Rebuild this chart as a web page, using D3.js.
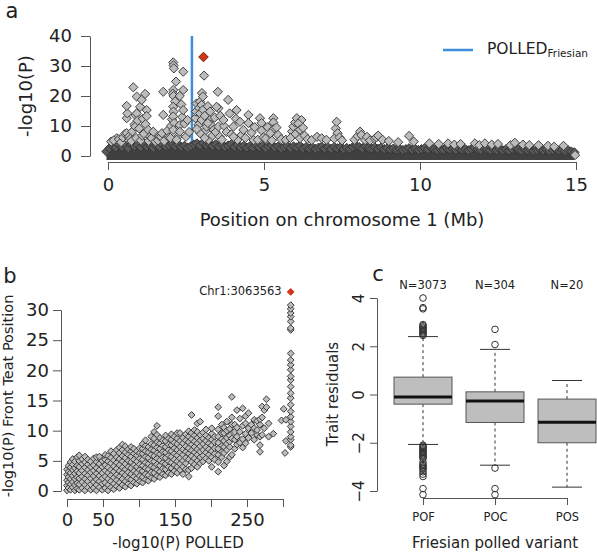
<!DOCTYPE html>
<html>
<head>
<meta charset="utf-8">
<script src="https://cdn.jsdelivr.net/npm/d3@7"></script>
<style>
  body { margin: 0; background: #fff; }
  svg { display: block; }
</style>
</head>
<body>
<svg id="chart" width="597" height="554"></svg>
<script>
// ── Data ─────────────────────────────────────────────────────────────────

// panel a: SNPs standing out above the dense baseline [position Mb, -log10 P]
const gwasPeaks = [
  [0.1, 4.8], [0.28, 5.9], [0.18, 5.2], [0.35, 5.6], [0.42, 4.6], [0.48, 6.2], [0.55, 7.4], [0.6, 7.6],
  [0.6, 12.6], [0.62, 14.2], [0.6, 16.7], [0.68, 6.6], [0.72, 5.8], [0.75, 5.0], [0.78, 8.2], [0.81, 22.9],
  [0.85, 10.5], [0.87, 9.8], [0.88, 13.6], [0.9, 6.0], [0.92, 19.8], [0.92, 14.2], [0.95, 11.8], [1.0, 9.2],
  [1.03, 16.4], [1.05, 5.2], [1.08, 18.7], [1.1, 6.8], [1.12, 12.4], [1.15, 7.4], [1.19, 20.7], [1.24, 15.3],
  [1.24, 13.3], [1.2, 10.6], [1.29, 8.7], [1.3, 5.0], [1.35, 6.4], [1.4, 6.0], [1.45, 8.1], [1.52, 4.8],
  [1.6, 5.2], [1.65, 6.6], [1.7, 6.4], [1.73, 7.6], [1.77, 13.7], [1.77, 21.4], [1.8, 5.0], [1.9, 8.4],
  [1.95, 6.2], [2.02, 10.0], [2.05, 12.2], [2.09, 31.2], [2.1, 30.2], [2.11, 29.2], [2.41, 28.1], [2.09, 22.0],
  [2.08, 20.8], [2.1, 20.0], [2.15, 18.2], [2.18, 24.8], [2.2, 9.4], [2.25, 6.6], [2.41, 22.0], [2.3, 20.0],
  [2.35, 17.2], [2.38, 13.0], [2.09, 16.4], [2.1, 14.8], [2.09, 13.2], [2.12, 11.0], [2.09, 8.7], [2.41, 15.3],
  [2.3, 10.3], [2.3, 8.1], [2.45, 10.8], [2.5, 6.4], [2.55, 12.0], [2.6, 8.0], [2.0, 6.0], [2.2, 5.4],
  [2.8, 12.6], [2.82, 14.8], [2.84, 17.5], [2.9, 10.4], [2.92, 16.0], [2.95, 18.1], [3.01, 21.0], [3.04, 19.8],
  [3.08, 26.8], [3.0, 17.0], [2.95, 14.2], [3.0, 12.0], [3.05, 15.4], [3.1, 13.4], [3.12, 8.4], [3.2, 16.6],
  [3.22, 5.4], [3.27, 14.8], [3.27, 12.0], [3.16, 9.8], [3.3, 10.4], [3.35, 6.8], [3.38, 8.7], [2.95, 7.6],
  [3.1, 6.0], [2.85, 9.0], [3.2, 11.0], [3.42, 12.8], [3.45, 8.0], [3.52, 21.4], [3.54, 15.9], [3.48, 16.4],
  [3.54, 9.8], [3.58, 6.4], [3.6, 13.4], [3.65, 5.4], [3.72, 10.0], [3.85, 18.7], [3.7, 12.0], [3.8, 8.0],
  [3.9, 14.2], [3.95, 7.2], [4.1, 12.4], [4.15, 5.4], [4.12, 15.3], [4.5, 13.7], [4.23, 11.4], [4.28, 7.0],
  [4.02, 9.8], [4.34, 8.7], [4.4, 6.0], [4.5, 11.0], [4.02, 6.4], [4.6, 7.8], [4.67, 5.3], [4.7, 9.6],
  [4.8, 5.4], [4.87, 12.6], [4.92, 11.0], [4.92, 8.5], [4.98, 6.2], [5.05, 5.8], [5.12, 9.6], [5.25, 5.2],
  [5.3, 12.6], [5.3, 11.2], [5.3, 8.9], [5.2, 7.6], [5.4, 9.5], [5.45, 7.0], [5.55, 5.6], [5.7, 5.4],
  [5.9, 8.2], [5.94, 9.8], [6.0, 11.2], [6.05, 12.6], [6.2, 12.0], [6.1, 10.8], [6.15, 8.7], [6.25, 9.4],
  [6.0, 7.2], [6.15, 5.9], [5.85, 6.0], [6.3, 6.8], [6.4, 5.6], [6.53, 5.3], [6.7, 6.4], [6.85, 5.9],
  [7.0, 5.4], [7.3, 9.2], [7.33, 11.4], [7.36, 7.6], [7.25, 5.8], [7.42, 6.2], [7.5, 5.2], [7.9, 5.4],
  [8.0, 6.6], [8.08, 8.1], [8.12, 7.0], [8.24, 5.3], [8.3, 6.4], [8.4, 5.2], [8.55, 5.8], [8.6, 6.2],
  [8.66, 6.8], [8.8, 5.4], [9.0, 5.0], [9.3, 4.6], [9.65, 6.7], [9.8, 4.8], [10.3, 4.2], [10.6, 4.0],
  [10.9, 4.2], [11.1, 3.8], [11.3, 4.0], [11.76, 4.2], [11.9, 3.6], [12.08, 4.2], [12.3, 3.8], [12.5, 4.0],
  [12.9, 3.6], [13.04, 4.4], [13.3, 3.8], [13.5, 3.6], [13.8, 3.6], [14.1, 3.4], [14.3, 3.1], [14.6, 3.4],
  [14.97, 0.3]
];

// panel a: top edge of the overplotted mass of SNPs near zero [position Mb, -log10 P]
const bandEdge = [
  [-0.05, 1.5], [0.05, 2.6], [0.15, 3.4], [0.25, 2.8], [0.35, 3.8], [0.45, 3.0], [0.55, 3.6], [0.65, 2.6],
  [0.75, 3.9], [0.85, 3.2], [0.95, 3.7], [1.05, 2.9], [1.15, 3.8], [1.25, 3.1], [1.35, 3.5], [1.45, 2.7],
  [1.55, 3.4], [1.65, 3.0], [1.75, 3.9], [1.85, 3.2], [1.95, 3.6], [2.05, 4.1], [2.15, 3.3], [2.25, 3.9],
  [2.35, 3.0], [2.45, 3.4], [2.55, 2.8], [2.65, 3.2], [2.75, 3.8], [2.85, 4.2], [2.95, 3.6], [3.05, 4.3],
  [3.15, 3.7], [3.25, 4.0], [3.35, 3.4], [3.45, 3.9], [3.55, 3.2], [3.65, 3.8], [3.75, 3.0], [3.85, 3.5],
  [3.95, 3.9], [4.05, 3.1], [4.15, 3.6], [4.25, 3.0], [4.35, 3.4], [4.45, 2.8], [4.55, 3.3], [4.65, 2.9],
  [4.75, 3.5], [4.85, 3.0], [4.95, 3.4], [5.05, 2.7], [5.15, 3.2], [5.25, 3.6], [5.35, 2.8], [5.45, 3.1],
  [5.55, 2.6], [5.65, 3.0], [5.75, 3.3], [5.85, 2.7], [5.95, 3.2], [6.05, 2.9], [6.15, 3.4], [6.25, 2.6],
  [6.35, 3.0], [6.45, 2.5], [6.55, 2.9], [6.65, 2.4], [6.75, 2.8], [6.85, 3.1], [6.95, 2.5], [7.05, 2.9],
  [7.15, 2.4], [7.25, 3.0], [7.35, 2.6], [7.45, 2.9], [7.55, 2.3], [7.65, 2.7], [7.75, 2.4], [7.85, 3.0],
  [7.95, 3.4], [8.05, 3.0], [8.15, 2.6], [8.25, 3.2], [8.35, 2.7], [8.45, 2.5], [8.55, 2.9], [8.65, 2.4],
  [8.75, 2.8], [8.85, 2.3], [8.95, 2.6], [9.05, 2.2], [9.15, 2.5], [9.25, 2.1], [9.35, 2.4], [9.45, 2.0],
  [9.55, 2.3], [9.65, 2.6], [9.75, 2.1], [9.85, 2.4], [9.95, 2.0], [10.05, 2.3], [10.15, 2.6], [10.25, 2.2],
  [10.35, 2.9], [10.45, 2.3], [10.55, 2.0], [10.65, 2.4], [10.75, 2.1], [10.85, 2.6], [10.95, 2.2], [11.05, 2.4],
  [11.15, 2.0], [11.25, 2.5], [11.35, 2.1], [11.45, 2.3], [11.55, 1.9], [11.65, 2.4], [11.75, 2.8], [11.85, 2.2],
  [11.95, 2.0], [12.05, 2.7], [12.15, 2.2], [12.25, 1.9], [12.35, 2.3], [12.45, 2.0], [12.55, 2.4], [12.65, 1.9],
  [12.75, 2.2], [12.85, 1.8], [12.95, 2.3], [13.05, 2.8], [13.15, 2.1], [13.25, 1.8], [13.35, 2.2], [13.45, 1.9],
  [13.55, 2.1], [13.65, 1.7], [13.75, 2.0], [13.85, 2.3], [13.95, 1.8], [14.05, 2.1], [14.15, 1.7], [14.25, 2.0],
  [14.35, 2.3], [14.45, 1.8], [14.55, 2.0], [14.65, 1.6], [14.75, 1.9], [14.85, 1.5], [14.95, 1.2]
];

const topSnp = {pos: 3.06, logP: 33.0, polled: 310.7, label: 'Chr1:3063563'};
const polledFriesianMb = 2.69;

const mbTicks = [0, 5, 10, 15];
const logPTicks = [0, 10, 20, 30, 40];

// panel b: columns of SNPs [-log10 P POLLED, [-log10 P front teat position ...]]
const teatCols = [
  [0, [0.1, 0.9, 1.8, 2.7, 3.6]], [2, [0.5, 1.4, 2.3, 3.2, 4.2]], [5, [0.2, 1.1, 2.0, 3.0, 3.9, 4.8]],
  [8, [0.6, 1.5, 2.5, 3.5, 4.4, 5.3]], [11, [0.1, 1.0, 2.0, 2.9, 3.8, 4.9]], [14, [0.4, 1.3, 2.3, 3.3, 4.2, 5.6]],
  [17, [0.2, 1.1, 2.1, 3.0, 4.0, 5.0, 5.9]], [21, [0.5, 1.5, 2.4, 3.4, 4.5, 5.3]], [25, [0.1, 1.0, 2.0, 2.9, 3.9, 4.8, 5.7]],
  [29, [0.6, 1.6, 2.6, 3.5, 4.4, 5.2]], [33, [0.2, 1.1, 2.1, 3.1, 4.0, 4.9]], [37, [0.5, 1.5, 2.5, 3.4, 4.3, 5.4]],
  [41, [0.1, 1.0, 1.9, 2.9, 3.8, 4.8, 5.6]], [45, [0.6, 1.6, 2.5, 3.5, 4.5, 5.7]], [49, [0.2, 1.2, 2.1, 3.0, 4.0, 5.0]],
  [53, [0.5, 1.4, 2.4, 3.4, 4.3, 5.2, 6.0]], [57, [0.1, 1.0, 2.0, 3.0, 3.9, 4.9, 5.8]], [61, [0.6, 1.6, 2.6, 3.5, 4.6, 5.5, 6.6]],
  [65, [0.3, 1.2, 2.2, 3.2, 4.1, 5.1, 6.2]], [69, [0.8, 1.8, 2.7, 3.7, 4.7, 5.6, 6.8]], [73, [0.5, 1.4, 2.4, 3.3, 4.3, 5.3, 6.3, 7.2]],
  [77, [1.0, 2.0, 3.0, 3.9, 4.9, 5.8, 6.8, 7.7]], [81, [0.7, 1.6, 2.6, 3.6, 4.5, 5.5, 6.4, 7.4]], [85, [1.2, 2.1, 3.1, 4.0, 5.0, 6.0, 6.9]],
  [89, [0.9, 1.9, 2.8, 3.8, 4.8, 5.7, 6.6, 7.3]], [93, [1.4, 2.4, 3.3, 4.3, 5.2, 6.2, 7.0]], [97, [1.2, 2.1, 3.0, 4.0, 4.9, 5.9, 6.6]],
  [101, [1.6, 2.5, 3.5, 4.4, 5.4, 6.3, 7.1]], [105, [1.4, 2.3, 3.3, 4.2, 5.2, 6.2, 7.0, 7.8]], [109, [1.9, 2.8, 3.8, 4.7, 5.7, 6.6, 7.5, 8.4]],
  [113, [1.7, 2.6, 3.6, 4.5, 5.5, 6.4, 7.3]], [117, [2.2, 3.1, 4.1, 5.0, 6.0, 6.9, 7.8, 9.0]], [121, [2.0, 3.0, 3.9, 4.9, 5.8, 6.7, 7.6, 8.7, 9.8]],
  [125, [2.5, 3.5, 4.4, 5.4, 6.3, 7.2, 8.1, 9.3, 10.8]], [129, [2.3, 3.2, 4.2, 5.1, 6.1, 7.0, 7.9, 8.8]], [133, [2.8, 3.7, 4.7, 5.6, 6.5, 7.5, 8.4]],
  [137, [2.6, 3.6, 4.5, 5.5, 6.4, 7.3, 8.3, 9.2]], [141, [3.0, 4.0, 4.9, 5.9, 6.8, 7.7, 8.7]], [145, [2.8, 3.8, 4.7, 5.7, 6.6, 7.6, 8.5, 9.4]],
  [149, [3.3, 4.3, 5.2, 6.2, 7.1, 8.0, 9.0]], [153, [3.0, 4.0, 4.9, 5.9, 6.8, 7.8, 8.7, 9.6]], [157, [3.5, 4.5, 5.4, 6.4, 7.3, 8.3, 9.6]],
  [161, [2.8, 4.0, 5.0, 6.0, 6.9, 7.9, 8.8]], [165, [3.6, 4.6, 5.5, 6.5, 7.4, 8.4, 9.4]], [169, [2.4, 3.5, 5.2, 6.2, 7.1, 8.1, 9.0, 9.9]],
  [173, [3.8, 4.8, 5.8, 6.7, 7.7, 8.6, 9.6, 12.6]], [177, [4.4, 5.4, 6.4, 7.3, 8.2, 9.2, 10.1]], [181, [4.0, 5.0, 6.0, 6.9, 7.9, 8.8, 9.8, 11.2]],
  [185, [4.6, 5.6, 6.5, 7.4, 8.4, 9.3, 11.5]], [189, [4.9, 5.9, 6.8, 7.8, 8.7, 9.7]], [193, [5.4, 6.4, 7.3, 8.3, 9.2, 10.2]],
  [197, [5.0, 6.0, 6.9, 7.9, 8.8]], [201, [4.0, 5.6, 6.6, 7.6, 8.5, 9.5, 10.4]], [205, [5.2, 6.2, 7.1, 8.1, 9.0]],
  [210, [3.2, 4.8, 6.0, 7.0, 8.0, 9.0, 10.2, 12.4, 13.9]], [215, [5.6, 6.5, 7.5, 8.6, 9.6, 11.0]], [218, [4.2, 6.3, 7.3, 8.3, 9.6, 10.5]],
  [222, [4.9, 6.8, 7.8, 8.8, 10.0, 11.5]], [226, [5.6, 7.3, 8.2, 9.2, 10.3]], [229, [6.0, 8.7, 11.0, 12.2, 15.6]],
  [233, [7.0, 8.5, 9.8, 11.0]], [236, [7.7, 9.0, 10.5, 13.4]], [240, [8.0, 9.8, 12.0]], [244, [7.2, 8.6, 10.8, 13.7]],
  [248, [7.9, 9.5, 11.2, 12.4]], [252, [8.8, 10.4, 12.9]], [256, [9.6, 11.0]], [260, [8.5, 10.4, 11.8]],
  [264, [9.3, 10.1, 11.6]], [268, [6.5, 7.6, 9.0, 11.0, 11.9]], [271, [9.3, 12.2, 14.0]], [274, [10.4, 13.4]],
  [277, [13.9, 15.2]], [280, [9.0, 11.2]], [286.5, [9.5]], [298, [11.7]], [301, [13.6]], [302.8, [6.3]], [304, [8.3, 11.8]],
  [310.7, [7.3, 7.6, 8.5, 9.0, 9.8, 10.7, 11.5, 12.3, 13.2, 14.3, 15.4, 16.2, 17.3, 18.4, 19.0, 20.1, 20.9, 21.7,
    22.8, 26.7, 27.0, 28.1, 28.9, 29.5, 30.2, 30.8]]
];
const polledTicks = [0, 50, 100, 150, 200, 250, 300];
const polledTickLabels = ['0', '50', '', '150', '', '250', ''];
const teatTicks = [0, 5, 10, 15, 20, 25, 30];

// panel c: box plot statistics of trait residuals per Friesian polled variant
const variants = ['POF', 'POC', 'POS'];
const counts = [3073, 304, 20];
const q1 = [-0.40, -1.16, -2.00];
const median = [-0.10, -0.27, -1.15];
const q3 = [0.72, 0.11, -0.19];
const whiskerLo = [-2.07, -2.93, -3.84];
const whiskerHi = [2.40, 1.87, 0.58];
const outliers = [
  [2.45, 2.5, 2.55, 2.6, 2.65, 2.7, 2.75, 2.8, 2.85, 2.9, 3.55, 3.6, 4.0,
    -2.1, -2.15, -2.2, -2.25, -2.3, -2.35, -2.4, -2.45, -2.5, -2.55, -2.6, -2.65, -2.8, -2.9, -2.95,
    -3.0, -3.05, -3.1, -3.2, -3.3, -3.4, -3.9, -4.15],
  [2.07, 2.7, -3.05, -3.9, -4.15],
  []
];
const residualTicks = [-4, -2, 0, 2, 4];

// ── Style ────────────────────────────────────────────────────────────────

const FONT = 'DejaVu Sans, sans-serif';
const INK = '#222';
const AXIS = '#555';
const PT_FILL = '#bcbcbc';
const PT_STROKE = '#404040';
const BAND = '#404040';
const RED = '#d2361a';
const BLUE = '#3d8fdb';

// ── Helpers ──────────────────────────────────────────────────────────────

const diamond = (r) => `M0,${-r}L${r},0L0,${r}L${-r},0Z`;

function styleAxis(g, size)
{
	g.attr('font-family', FONT).attr('font-size', size);
	g.select('.domain').attr('stroke', AXIS);
	g.selectAll('.tick line').attr('stroke', AXIS);
	g.selectAll('.tick text').attr('fill', INK);
}

function label(svg, text, x, y, size, opts = {})
{
	const t = svg.append('text')
	.attr('x', x).attr('y', y)
	.attr('font-family', FONT).attr('font-size', size)
	.attr('fill', INK)
	.attr('text-anchor', opts.anchor || 'middle')
	.text(text);
	if(opts.rotate) t.attr('transform', `rotate(-90,${x},${y})`);
	return t;
}

const svg = d3.select('#chart');

// ── Panel a: Manhattan plot ──────────────────────────────────────────────

{
	const x = d3.scaleLinear().domain([0, 15]).range([108, 576]);
	const y = d3.scaleLinear().domain([0, 40]).range([156, 36]);

	svg.append('g').attr('transform', 'translate(90,0)')
	.call(d3.axisLeft(y).tickValues(logPTicks).tickSize(9).tickSizeOuter(0).tickPadding(9))
	.call((g) => styleAxis(g, 18));

	svg.append('g').attr('transform', 'translate(0,162)')
	.call(d3.axisBottom(x).tickValues(mbTicks).tickSize(8).tickSizeOuter(0).tickPadding(8))
	.call((g) => styleAxis(g, 18));

	label(svg, 'Position on chromosome 1 (Mb)', 342, 226, 18);
	label(svg, '-log10(P)', 32, 96, 18, {rotate: true});
	label(svg, 'a', 12, 18, 21);

	svg.append('line')
	.attr('x1', x(polledFriesianMb)).attr('x2', x(polledFriesianMb))
	.attr('y1', y(40)).attr('y2', y(0))
	.attr('stroke', BLUE).attr('stroke-width', 2.5);

	svg.append('path')
	.datum(bandEdge)
	.attr('d', d3.area().x((d) => x(d[0])).y0(y(-1.3)).y1((d) => y(d[1])))
	.attr('fill', BAND);

	svg.append('g').selectAll('path')
	.data(bandEdge)
	.join('path')
	.attr('d', diamond(4.6))
	.attr('transform', (d) => `translate(${x(d[0])},${y(d[1])})`)
	.attr('fill', '#5a5a5a').attr('stroke', '#333').attr('stroke-width', 1);

	svg.append('g').selectAll('path')
	.data(gwasPeaks)
	.join('path')
	.attr('d', diamond(4.6))
	.attr('transform', (d) => `translate(${x(d[0])},${y(d[1])})`)
	.attr('fill', PT_FILL).attr('stroke', PT_STROKE).attr('stroke-width', 1);

	svg.append('path')
	.attr('d', diamond(4.8))
	.attr('transform', `translate(${x(topSnp.pos)},${y(topSnp.logP)})`)
	.attr('fill', RED).attr('stroke', '#7a1c0c').attr('stroke-width', 1);

	// legend
	svg.append('line').attr('x1', 443).attr('x2', 473).attr('y1', 50).attr('y2', 50)
	.attr('stroke', BLUE).attr('stroke-width', 2.5);
	const leg = label(svg, 'POLLED', 487, 54, 15.5, {anchor: 'start'});
	leg.append('tspan').attr('font-size', 10.5).attr('dy', 3).text('Friesian');
}

// ── Panel b: POLLED vs front teat position ───────────────────────────────

{
	const x = d3.scaleLinear().domain([0, 300]).range([67, 283]);
	const y = d3.scaleLinear().domain([0, 30]).range([491, 310]);

	svg.append('g').attr('transform', 'translate(61,0)')
	.call(d3.axisLeft(y).tickValues(teatTicks).tickSize(8).tickSizeOuter(0).tickPadding(4))
	.call((g) => styleAxis(g, 18));

	svg.append('g').attr('transform', 'translate(0,499)')
	.call(d3.axisBottom(x).tickValues(polledTicks).tickSize(8).tickSizeOuter(0).tickPadding(6)
	.tickFormat((d, i) => polledTickLabels[i]))
	.call((g) => styleAxis(g, 18));

	label(svg, '-log10(P) POLLED', 178, 548, 15);
	label(svg, '-log10(P) Front Teat Position', 13, 396, 14.5, {rotate: true});
	label(svg, 'b', 10, 283, 21);

	const pts = teatCols.flatMap(([px, ys]) => ys.map((v) => [px, v]));
	svg.append('g').selectAll('path')
	.data(pts)
	.join('path')
	.attr('d', diamond(3.4))
	.attr('transform', (d) => `translate(${x(d[0])},${y(d[1])})`)
	.attr('fill', PT_FILL).attr('stroke', '#3a3a3a').attr('stroke-width', 1);

	svg.append('path')
	.attr('d', diamond(3.4))
	.attr('transform', `translate(${x(topSnp.polled)},${y(topSnp.logP)})`)
	.attr('fill', RED).attr('stroke', RED);

	label(svg, topSnp.label, x(topSnp.polled) - 9, y(topSnp.logP) + 3, 11.5, {anchor: 'end'});
}

// ── Panel c: box plots ───────────────────────────────────────────────────

{
	const x = d3.scalePoint().domain(variants).range([423, 567]);
	const y = d3.scaleLinear().domain([-4, 4]).range([491, 298]);
	const boxW = 58;
	const capW = 30;

	const yAxis = svg.append('g').attr('transform', 'translate(377,0)')
	.call(d3.axisLeft(y).tickValues(residualTicks).tickSize(7).tickSizeOuter(0))
	.call((g) => styleAxis(g, 15));
	yAxis.selectAll('.tick text')
	.attr('x', 0).attr('y', -13).attr('dy', 0)
	.attr('text-anchor', 'middle')
	.attr('transform', 'rotate(-90)');

	svg.append('g').attr('transform', 'translate(0,498)')
	.call(d3.axisBottom(x).tickSize(7).tickSizeOuter(0).tickPadding(8))
	.call((g) => styleAxis(g, 11.5));

	label(svg, 'Trait residuals', 338, 394, 15, {rotate: true});
	label(svg, 'Friesian polled variant', 495, 548, 15);
	label(svg, 'c', 378, 281, 21);

	variants.forEach((v, i) =>
	{
		const cx = x(v);
		const g = svg.append('g');

		g.append('line').attr('x1', cx).attr('x2', cx).attr('y1', y(q3[i])).attr('y2', y(whiskerHi[i]))
		.attr('stroke', '#333').attr('stroke-dasharray', '3,3');
		g.append('line').attr('x1', cx).attr('x2', cx).attr('y1', y(q1[i])).attr('y2', y(whiskerLo[i]))
		.attr('stroke', '#333').attr('stroke-dasharray', '3,3');
		[whiskerHi[i], whiskerLo[i]].forEach((w) =>
		{
			g.append('line').attr('x1', cx - capW / 2).attr('x2', cx + capW / 2)
			.attr('y1', y(w)).attr('y2', y(w)).attr('stroke', '#333');
		});

		g.append('rect')
		.attr('x', cx - boxW / 2).attr('width', boxW)
		.attr('y', y(q3[i])).attr('height', y(q1[i]) - y(q3[i]))
		.attr('fill', '#bebebe').attr('stroke', '#555');

		g.append('line').attr('x1', cx - boxW / 2).attr('x2', cx + boxW / 2)
		.attr('y1', y(median[i])).attr('y2', y(median[i]))
		.attr('stroke', '#111').attr('stroke-width', 3);

		g.selectAll('circle')
		.data(outliers[i])
		.join('circle')
		.attr('cx', cx).attr('cy', (d) => y(d)).attr('r', 3.3)
		.attr('fill', 'none').attr('stroke', '#333');

		label(svg, `N=${counts[i]}`, cx, 289, 11.5);
	});
}
</script>
</body>
</html>
